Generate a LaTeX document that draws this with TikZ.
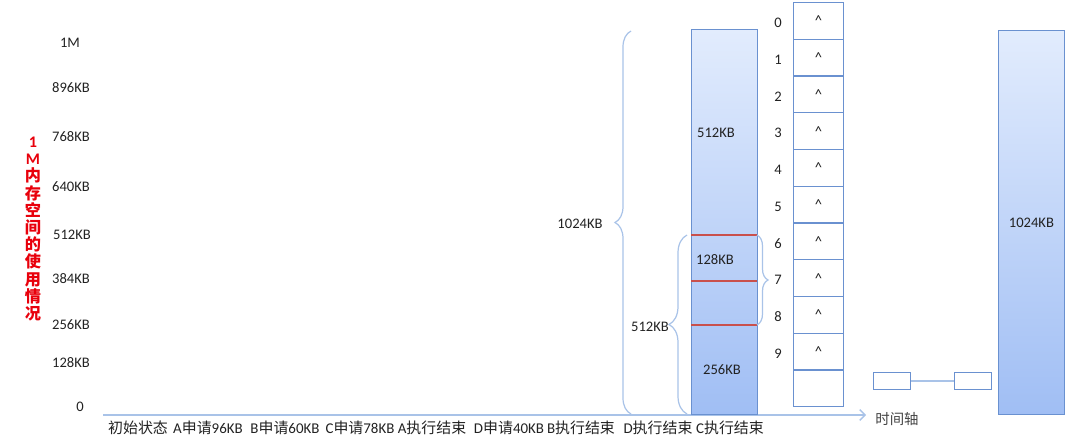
\documentclass[tikz,border=0pt]{standalone}
\usepackage{fontspec}
\setmainfont{Carlito}
\newfontfamily\cjk{Noto Sans CJK SC}
\usetikzlibrary{arrows.meta,decorations.pathreplacing,positioning,calc}
\definecolor{boxblue}{HTML}{6A91D0}
\definecolor{bracecol}{HTML}{A9C3E8}
\definecolor{topblue}{HTML}{E2ECFD}
\definecolor{botblue}{HTML}{A0BEF4}
\definecolor{splitred}{HTML}{C9504C}
\definecolor{txt}{HTML}{222222}
\definecolor{titlered}{HTML}{E8000B}
\newcommand{\zh}[1]{{\cjk #1}}

\begin{document}
\begin{tikzpicture}[x=0.02cm, y=-0.02cm,
    lbl/.style={font=\fontsize{8.3}{10}\selectfont, text=txt, inner sep=0pt},
    steplbl/.style={font=\fontsize{8.5}{10}\selectfont, text=txt, inner sep=0pt},
    memcol/.style={draw=boxblue, line width=0.5pt, top color=topblue, bottom color=botblue,
        minimum width=1.32cm, inner sep=0pt, anchor=north west},
    slot/.style={draw=boxblue, line width=0.7pt, minimum width=1cm, minimum height=0.7346cm,
        inner sep=0pt, anchor=north west},
    minibox/.style={draw=boxblue, line width=0.7pt, minimum width=0.74cm, minimum height=0.34cm, inner sep=0pt},
    brace/.style={decorate, draw=bracecol, line width=0.7pt},
    split/.style={draw=splitred, line width=0.9pt},
    axis/.style={draw=bracecol, line width=0.8pt, -{Straight Barb[length=3pt,width=6pt]}},
    link/.style={draw=bracecol, line width=0.6pt},
]
\useasboundingbox (0,0) rectangle (1080,436);

% Title on the left
\node[font=\fontsize{9.2}{9.8}\selectfont\bfseries, text=titlered, align=center, inner sep=0pt] (title) at (33,229)
  {1\\M\\\zh{内}\\\zh{存}\\\zh{空}\\\zh{间}\\\zh{的}\\\zh{使}\\\zh{用}\\\zh{情}\\\zh{况}};

% Memory scale
\node[lbl] (m1024) at (70,43) {1M};
\node[lbl] (m896) at (71,88) {896KB};
\node[lbl] (m768) at (71,137) {768KB};
\node[lbl] (m640) at (71,187) {640KB};
\node[lbl] (m512) at (72,235) {512KB};
\node[lbl] (m384) at (71,279) {384KB};
\node[lbl] (m256) at (71,325) {256KB};
\node[lbl] (m128) at (71,363) {128KB};
\node[lbl] (m0) at (80,407) {0};

% Time axis
\coordinate (t0) at (103,415);
\coordinate (t1) at (866,415);
\draw[axis] (t0) -- (t1);
\node[lbl, font=\fontsize{8.2}{10}\selectfont\cjk, text=txt!85] (taxis) at (897,419) {时间轴};

% Steps
\node[steplbl] (st0) at (138,428) {\zh{初始状态}};
\node[steplbl] (st1) at (208,428) {A\zh{申请}96KB};
\node[steplbl] (st2) at (285,428) {B\zh{申请}60KB};
\node[steplbl] (st3) at (360,428) {C\zh{申请}78KB};
\node[steplbl] (st4) at (432,428) {A\zh{执行结束}};
\node[steplbl] (st5) at (509,428) {D\zh{申请}40KB};
\node[steplbl] (st6) at (581,428) {B\zh{执行结束}};
\node[steplbl] (st7) at (658,428) {D\zh{执行结束}};
\node[steplbl] (st8) at (730,428) {C\zh{执行结束}};

% Memory after C ends
\node[memcol, minimum height=7.7cm] (mid) at (691,29) {};
\coordinate (r1a) at (691,235); \coordinate (r1b) at (757,235);
\coordinate (r2a) at (691,281); \coordinate (r2b) at (757,281);
\coordinate (r3a) at (691,325); \coordinate (r3b) at (757,325);
\draw[split] (r1a) -- (r1b);
\draw[split] (r2a) -- (r2b);
\draw[split] (r3a) -- (r3b);
\node[lbl] (k512) at (716,133) {512KB};
\node[lbl] (k128) at (715,260) {128KB};
\node[lbl] (k256) at (722,370) {256KB};

% Braces
\coordinate (ba) at (631,414);
\coordinate (bb) at (631,31);
\draw[brace, decoration={brace, amplitude=0.32cm}] (ba) -- (bb);
\node[lbl] (b1024) at (580,224) {1024KB};
\coordinate (ca) at (687,414);
\coordinate (cb) at (687,235);
\draw[brace, decoration={brace, amplitude=0.36cm}] (ca) -- (cb);
\node[lbl] (c512) at (650,327) {512KB};
\coordinate (da) at (757,235);
\coordinate (db) at (757,325);
\draw[brace, decoration={brace, amplitude=0.22cm}] (da) -- (db);

% Free lists
\foreach \i in {0,...,10}
  \node[slot] (s\i) at (793,{2+36.73*\i}) {};
\foreach \i in {0,...,9} {
  \node[lbl] (c\i) at (s\i) {\textasciicircum};
  \node[lbl] (n\i) at ($(s\i.west)+(-15,2)$) {\i};
}
\node[minibox] (f1) at (892,381) {};
\node[minibox] (f2) at (973,381) {};
\draw[link] (f1) -- (f2);

% Memory at start
\node[memcol, minimum height=7.68cm] (full) at (998,30) {};
\node[lbl] (k1024) at (full) {1024KB};

\end{tikzpicture}
\end{document}
